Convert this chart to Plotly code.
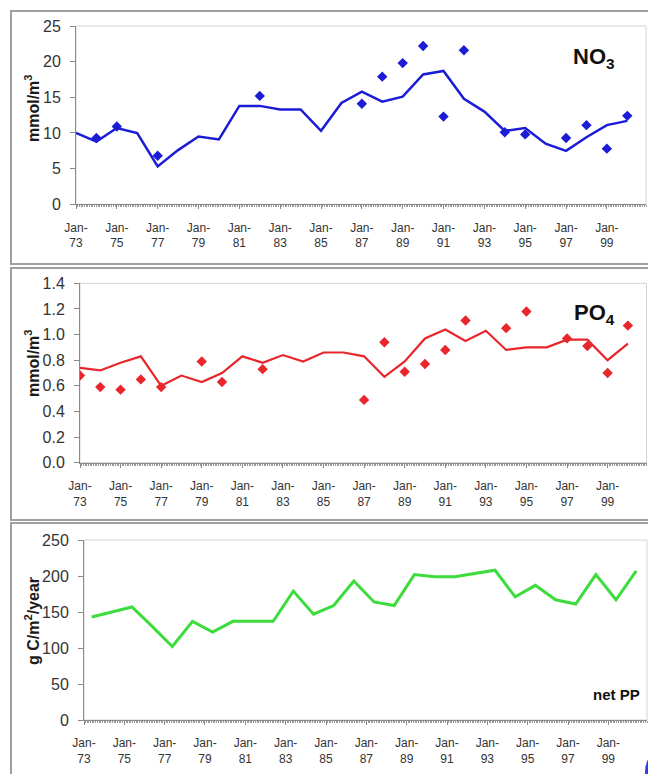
import plotly.graph_objects as go

# page body adds an 8px offset; the figure is sized to fill the rest of the window
OFF = 8
W, H = 656 - OFF, 774 - OFF

# ---------------- data ----------------
years = list(range(1973, 2001))
model_dates = [f"{y}-01-01" for y in years]

no3_model = [10.0, 8.8, 10.7, 10.0, 5.3, 7.6, 9.5, 9.1, 13.8, 13.8, 13.3, 13.3, 10.3, 14.2,
             15.8, 14.4, 15.1, 18.2, 18.7, 14.8, 13.0, 10.3, 10.7, 8.5, 7.5, 9.4, 11.1, 11.7]
no3_obs_years = [1974, 1975, 1977, 1982, 1987, 1988, 1989, 1990, 1991, 1992, 1994, 1995,
                 1997, 1998, 1999, 2000]
no3_obs = [9.3, 10.9, 6.8, 15.2, 14.1, 17.9, 19.8, 22.2, 12.3, 21.6, 10.1, 9.8,
           9.3, 11.1, 7.8, 12.4]

po4_model = [0.74, 0.72, 0.78, 0.83, 0.60, 0.68, 0.63, 0.70, 0.83, 0.78, 0.84, 0.79, 0.86, 0.86,
             0.83, 0.67, 0.79, 0.97, 1.04, 0.95, 1.03, 0.88, 0.90, 0.90, 0.96, 0.96, 0.80, 0.93]
po4_obs_years = [1973, 1974, 1975, 1976, 1977, 1979, 1980, 1982, 1987, 1988, 1989, 1990,
                 1991, 1992, 1994, 1995, 1997, 1998, 1999, 2000]
po4_obs = [0.68, 0.59, 0.57, 0.65, 0.59, 0.79, 0.63, 0.73, 0.49, 0.94, 0.71, 0.77,
           0.88, 1.11, 1.05, 1.18, 0.97, 0.91, 0.70, 1.07]

pp_dates = [f"{y}-05-20" for y in years]
net_pp = [143, 150, 157, 130, 102, 137, 122, 137, 137, 137, 179, 147, 159, 193,
          164, 159, 202, 199, 199, 204, 208, 171, 187, 167, 161, 202, 167, 207]

tick_years = list(range(1973, 2001, 2))
tick_vals = [f"{y}-01-01" for y in tick_years]
tick_text = [f"Jan-<br>{str(y)[2:]}" for y in tick_years]

x_range = ["1973-01-01", "2000-12-01"]

BLUE = "#1c1cd6"
RED = "#e8262b"
GREEN = "#3ddc3d"
FONT = "Arial, Liberation Sans, sans-serif"
TXT = "#2a2a2a"


def px_x(p):
    return (p - OFF) / W


def px_y(p):
    return 1 - (p - OFF) / H


fig = go.Figure()

fig.add_trace(go.Scatter(x=model_dates, y=no3_model, mode="lines",
                         line=dict(color=BLUE, width=2.5), xaxis="x", yaxis="y"))
fig.add_trace(go.Scatter(x=[f"{y}-01-01" for y in no3_obs_years], y=no3_obs, mode="markers",
                         marker=dict(symbol="diamond", size=8, color=BLUE), xaxis="x", yaxis="y"))

fig.add_trace(go.Scatter(x=model_dates, y=po4_model, mode="lines",
                         line=dict(color=RED, width=2.2), xaxis="x2", yaxis="y2"))
fig.add_trace(go.Scatter(x=[f"{y}-01-01" for y in po4_obs_years], y=po4_obs, mode="markers",
                         marker=dict(symbol="diamond", size=8, color=RED), xaxis="x2", yaxis="y2"))

fig.add_trace(go.Scatter(x=pp_dates, y=net_pp, mode="lines",
                         line=dict(color=GREEN, width=3), xaxis="x3", yaxis="y3"))

# plot areas in window pixels: (left, right, top, bottom)
areas = [(76, 646, 26, 204.3), (80, 646.5, 283.3, 462.7), (84, 647, 540, 720)]
yranges = [[0, 25], [0, 1.4], [0, 250]]
ydticks = [5, 0.2, 50]
yfmts = ["d", ".1f", "d"]

layout = dict(
    width=W, height=H, margin=dict(l=0, r=0, t=0, b=0),
    paper_bgcolor="white", plot_bgcolor="white", showlegend=False,
    font=dict(family=FONT, color=TXT),
)

shapes = []
for i, (l, r, t, b) in enumerate(areas):
    sx = "" if i == 0 else str(i + 1)
    layout["xaxis" + sx] = dict(
        domain=[px_x(l), px_x(r)], anchor="y" + sx, type="date", range=x_range,
        tickmode="array", tickvals=tick_vals, ticktext=tick_text,
        ticks="outside", ticklen=4, tickcolor="#8a8a8a", tickwidth=1,
        showline=True, linecolor="#8a8a8a", linewidth=1, showgrid=False, zeroline=False,
        tickfont=dict(size=12, color="#333333", family=FONT), ticklabelstandoff=8,
        minor=dict(tickmode="linear", tick0="1973-01-01", dtick="M1", ticks="outside",
                   ticklen=2, tickcolor="#9a9a9a", tickwidth=1, showgrid=False),
        automargin=False, fixedrange=True,
    )
    layout["yaxis" + sx] = dict(
        domain=[px_y(b), px_y(t)], anchor="x" + sx, range=yranges[i], dtick=ydticks[i],
        tickformat=yfmts[i], ticks="outside", ticklen=5, tickcolor="#8a8a8a",
        showline=True, linecolor="#8a8a8a", linewidth=1, showgrid=False, zeroline=False,
        tickfont=dict(size=16, color="#333333", family=FONT), ticklabelstandoff=6,
        automargin=False, fixedrange=True,
    )
    # plot-area frame
    shapes.append(dict(type="rect", xref="paper", yref="paper", layer="below",
                       x0=px_x(l), x1=px_x(r), y0=px_y(b), y1=px_y(t),
                       line=dict(color="#d4d4d4", width=1)))

# panel frames
for (t, b) in [(11, 264), (268, 520), (523, 800)]:
    shapes.append(dict(type="rect", xref="paper", yref="paper", layer="below",
                       x0=px_x(11), x1=px_x(700), y0=px_y(b), y1=px_y(t),
                       line=dict(color="#a0a0a0", width=2)))

# corner logo fragment
shapes.append(dict(type="circle", xref="paper", yref="paper",
                   x0=px_x(645), x1=px_x(701), y0=px_y(800), y1=px_y(744),
                   fillcolor="#2a3cf0", line=dict(width=0)))
shapes.append(dict(type="circle", xref="paper", yref="paper",
                   x0=px_x(652), x1=px_x(694), y0=px_y(793), y1=px_y(751),
                   fillcolor="#e82020", line=dict(color="white", width=2)))

layout["shapes"] = shapes

annotations = [
    dict(text="<b>mmol/m<sup>3</sup></b>", x=px_x(32), y=px_y(108), textangle=-90),
    dict(text="<b>mmol/m<sup>3</sup></b>", x=px_x(32), y=px_y(363), textangle=-90),
    dict(text="<b>g C/m<sup>2</sup>/year</b>", x=px_x(32), y=px_y(621), textangle=-90),
]
for a in annotations:
    a.update(xref="paper", yref="paper", showarrow=False, xanchor="center", yanchor="middle",
             font=dict(size=16, color="#1a1a1a", family=FONT))

annotations += [
    dict(text="<b>NO<sub>3</sub></b>", x=px_x(571), y=px_y(58), xanchor="left", yanchor="middle",
         font=dict(size=22, color="#111111", family=FONT)),
    dict(text="<b>PO<sub>4</sub></b>", x=px_x(572), y=px_y(314), xanchor="left", yanchor="middle",
         font=dict(size=22, color="#111111", family=FONT)),
    dict(text="<b>net PP</b>", x=px_x(642), y=px_y(694), xanchor="right", yanchor="middle",
         font=dict(size=15, color="#111111", family=FONT)),
]
for a in annotations[3:]:
    a.update(xref="paper", yref="paper", showarrow=False)

layout["annotations"] = annotations

fig.update_layout(**layout)
fig.write_html("out.html")
